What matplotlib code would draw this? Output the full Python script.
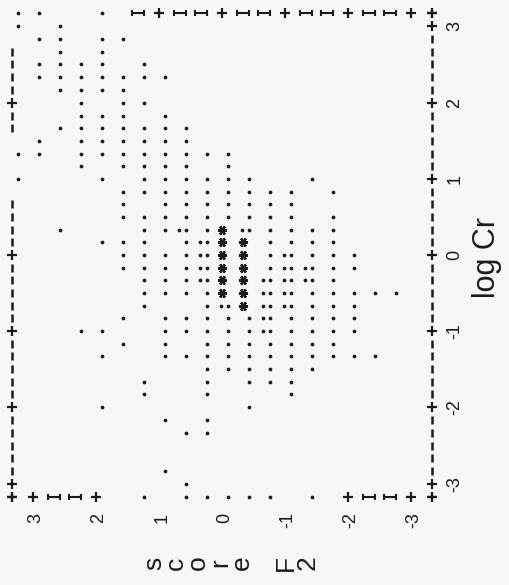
import matplotlib
matplotlib.use("Agg")
import matplotlib.pyplot as plt
import numpy as np
from matplotlib.path import Path
from matplotlib.transforms import offset_copy

# ---------------- data (line-printer scatter, log Cr vs score F2) ----------------
# rows of log Cr (character rows of the printout) and the F2 scores holding a single point '.'
row_log_cr = [3.17, 3.00, 2.83, 2.67, 2.50, 2.33, 2.17, 2.00, 1.83, 1.67, 1.50, 1.33,
              1.17, 1.00, 0.83, 0.67, 0.50, 0.33, 0.17, 0.00, -0.17, -0.33, -0.50,
              -0.67, -0.83, -1.00, -1.17, -1.33, -1.50, -1.67, -1.83, -2.00, -2.17,
              -2.33, -2.83, -3.00, -3.17]
row_scores = [
    [3.33, 3.00, 2.00],
    [3.33, 2.67],
    [3.00, 2.67, 2.00, 1.67],
    [2.67, 2.00],
    [3.00, 2.67, 2.33, 2.00, 1.33],
    [3.00, 2.67, 2.33, 2.00, 1.67, 1.33, 1.00],
    [2.67, 2.33, 2.00, 1.67],
    [2.33, 1.67, 1.33],
    [2.33, 2.00, 1.67, 1.00],
    [2.67, 2.33, 2.00, 1.67, 1.33, 1.00, 0.67],
    [3.00, 2.33, 2.00, 1.67, 1.33, 1.00, 0.67],
    [3.33, 3.00, 2.33, 2.00, 1.67, 1.33, 1.00, 0.67, 0.33, 0.00],
    [2.33, 1.67, 1.33, 1.00, 0.67, 0.00],
    [3.33, 2.00, 1.33, 1.00, 0.67, 0.33, 0.00, -0.33, -1.33],
    [1.67, 1.33, 1.00, 0.67, 0.33, 0.00, -0.33, -0.67, -1.00, -1.67],
    [1.67, 1.00, 0.67, 0.33, 0.00, -0.33, -0.67, -1.00],
    [1.67, 1.33, 1.00, 0.67, 0.33, 0.00, -0.33, -0.67, -1.00, -1.67],
    [2.67, 1.33, 1.00, 0.33, -0.67, -1.00, -1.33, -1.67],
    [2.00, 1.67, 1.33, 0.67, -0.67, -1.00, -1.33, -1.67],
    [1.67, 1.33, 1.00, 0.67, -0.67, -1.33, -1.67, -2.00],
    [1.67, 1.33, 1.00, 0.67, -0.67, -1.67, -2.00],
    [1.33, 1.00, 0.67, -1.67],
    [1.33, 1.00, 0.67, 0.33, -1.33, -1.67, -2.00, -2.33, -2.67],
    [1.33, 0.33, -1.33, -1.67, -2.00],
    [1.67, 1.00, 0.67, 0.33, 0.00, -0.33, -1.00, -1.33, -1.67, -2.00],
    [2.33, 2.00, 1.00, 0.67, 0.33, 0.00, -0.33, -1.00, -1.33, -1.67, -2.00],
    [1.67, 1.00, 0.33, 0.00, -0.33, -0.67, -1.00, -1.33, -1.67],
    [2.00, 1.00, 0.67, 0.33, 0.00, -0.33, -0.67, -1.00, -1.33, -1.67, -2.00, -2.33],
    [0.33, 0.00, -0.33, -0.67, -1.00, -1.33],
    [1.33, 0.33, -0.33, -0.67, -1.00],
    [1.33, 0.33, -1.00],
    [2.00, -0.33],
    [1.00, 0.33],
    [0.67, 0.33],
    [1.00],
    [0.67],
    [1.33, 0.67, 0.33, 0.00, -0.33, -0.67, -1.33],
]
# cells printed ':' (two points)
colon_score = [0.67, -0.33, 0.33, 0.33, -1.00, 0.33, -1.00, -1.33, 0.33, -0.67,
               -1.00, -1.33, -0.67, -1.00, 0.00, -0.67, -1.00, -0.67, -0.67]
colon_log_cr = [0.33, 0.33, 0.17, 0.00, 0.00, -0.17, -0.17, -0.17, -0.33, -0.33,
                -0.33, -0.33, -0.50, -0.50, -0.67, -0.67, -0.67, -0.83, -1.00]
# cells printed '*' (many points)
star_score = [0.00, 0.00, -0.33, 0.00, -0.33, 0.00, -0.33, 0.00, -0.33, 0.00, -0.33, -0.33]
star_log_cr = [0.33, 0.17, 0.17, 0.00, 0.00, -0.17, -0.17, -0.33, -0.33, -0.50, -0.50, -0.67]

score_ticks = [3, 2, 1, 0, -1, -2, -3]
log_cr_ticks = [3, 2, 1, 0, -1, -2, -3]
x_title = "log Cr"
y_title = "score F2"

# ---------------- figure ----------------
W, H = 509, 585
DPI = 100
ink = "#1b1b1b"
paper = "#f7f7f5"
fig = plt.figure(figsize=(W / DPI, H / DPI), dpi=DPI)
fig.patch.set_facecolor(paper)

px_per_score = 63.0
px_per_logcr = 76.2
x_zero, y_zero = 222.0, 255.0
xl, yl = 3.5, 3.3
left = x_zero - px_per_score * xl
right = x_zero + px_per_score * xl
top = y_zero - px_per_logcr * yl
bottom = y_zero + px_per_logcr * yl
ax = fig.add_axes([left / W, (H - bottom) / H, (right - left) / W, (bottom - top) / H])
ax.set_xlim(xl, -xl)
ax.set_ylim(-yl, yl)
ax.axis("off")
ax.set_facecolor(paper)

# printed '.' sits on the baseline -> shifted right in the rotated page
dot_tr = offset_copy(ax.transData, fig=fig, x=6, y=0, units="dots")
colon_tr = offset_copy(ax.transData, fig=fig, x=-1, y=0, units="dots")

xs, ys = [], []
for lc, scs in zip(row_log_cr, row_scores):
    for s in scs:
        xs.append(s)
        ys.append(lc)
dot_kw = dict(ls="none", marker="o", ms=2.7, mew=0, color=ink, clip_on=False)
ax.plot(xs, ys, transform=dot_tr, **dot_kw)
ax.plot(colon_score, colon_log_cr, transform=dot_tr, **dot_kw)
ax.plot(colon_score, colon_log_cr, transform=colon_tr, **dot_kw)
ax.plot(star_score, star_log_cr, ls="none", marker=(6, 2, 90), ms=6.5, mew=1.7, color=ink,
        clip_on=False)

# ---------------- printed frame ----------------
i_marker = Path([(-1, 0), (1, 0), (-1, -0.55), (-1, 0.55), (1, -0.55), (1, 0.55)],
                [Path.MOVETO, Path.LINETO, Path.MOVETO, Path.LINETO, Path.MOVETO, Path.LINETO])

def frame_char(xv, yv, kind):
    if kind == "+":
        ax.plot([xv], [yv], marker="+", ms=6.8, mew=1.6, color=ink, ls="none", clip_on=False)
    elif kind == "I":
        ax.plot([xv], [yv], marker=i_marker, ms=8.8, mew=1.5, color=ink, ls="none", clip_on=False)
    else:
        ax.plot([xv], [yv], marker="|", ms=5.2, mew=1.8, color=ink, ls="none", clip_on=False)

cols = np.arange(10, -11, -1)
rows = np.arange(19, -20, -1)
s_edge_left, s_edge_right = round(10 / 3, 2), round(-10 / 3, 2)
l_edge_top, l_edge_bot = round(19 / 6, 2), round(-19 / 6, 2)

# top row (score axis at log Cr max)
for c in cols:
    if c <= 4:
        frame_char(round(c / 3, 2), l_edge_top, "+" if (c % 3 == 0 or abs(c) == 10) else "I")
# bottom row
for c in cols:
    if abs(c) >= 6:
        frame_char(round(c / 3, 2), l_edge_bot, "+" if (c % 3 == 0 or abs(c) == 10) else "I")
# right column (log Cr axis)
for r in rows:
    frame_char(s_edge_right, round(r / 6, 2), "+" if (r % 6 == 0 or abs(r) == 19) else "-")
# left column
for r in rows:
    if (10 <= r <= 16) or (r <= 4):
        frame_char(s_edge_left, round(r / 6, 2), "+" if (r % 6 == 0 or abs(r) == 19) else "-")

# ---------------- labels ----------------
font = "Liberation Sans"
lab_tr = offset_copy(ax.transData, fig=fig, x=3, y=0, units="dots")
for t in score_ticks:
    ax.text(t, -3.38, str(t), rotation=90, ha="center", va="top", fontsize=13,
            family=font, color=ink, transform=lab_tr, clip_on=False)
for t in log_cr_ticks:
    ax.text(-3.56, t, str(t), rotation=90, ha="left", va="center", fontsize=13,
            family=font, color=ink, clip_on=False)
ax.text(-4.21, -0.03, x_title, rotation=90, ha="center", va="center", fontsize=22,
        family=font, color=ink, clip_on=False)

# vertical (one character per printed line) axis title, rotated with the page
stacked = "\n".join(ch if ch != " " else " " for ch in y_title)
fig.text(231 / W, 1 - 563 / H, stacked, rotation=90, ha="center", va="center",
         multialignment="center", fontsize=19, linespacing=0.89, family=font, color=ink)

fig.savefig("out.png", dpi=DPI, facecolor=paper)
